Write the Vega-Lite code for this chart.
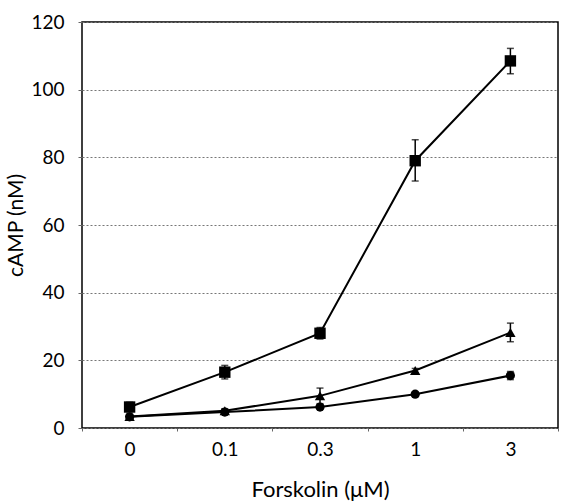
{
  "$schema": "https://vega.github.io/schema/vega-lite/v6.json",
  "width": 476,
  "height": 406,
  "autosize": "none",
  "padding": {"left": 82, "top": 22, "right": 6, "bottom": 75},
  "background": "white",
  "config": {
    "view": {"stroke": "black", "strokeWidth": 1.5},
    "font": "Lato",
    "axis": {"labelFont": "Lato", "titleFont": "Lato", "labelColor": "black", "titleColor": "black", "titleFontWeight": "normal"}
  },
  "data": {
    "values": [
      {"dose": "0", "series": "A", "mean": 6.2, "lo": 4.8, "hi": 7.6},
      {"dose": "0.1", "series": "A", "mean": 16.5, "lo": 14.5, "hi": 18.5},
      {"dose": "0.3", "series": "A", "mean": 28, "lo": 26.3, "hi": 29.7},
      {"dose": "1", "series": "A", "mean": 79, "lo": 73, "hi": 85.2},
      {"dose": "3", "series": "A", "mean": 108.5, "lo": 104.7, "hi": 112.2},
      {"dose": "0", "series": "B", "mean": 3.4, "lo": 2.8, "hi": 4.0},
      {"dose": "0.1", "series": "B", "mean": 5.1, "lo": 4.5, "hi": 5.7},
      {"dose": "0.3", "series": "B", "mean": 9.5, "lo": 7.2, "hi": 11.8},
      {"dose": "1", "series": "B", "mean": 17, "lo": 16.4, "hi": 17.6},
      {"dose": "3", "series": "B", "mean": 28.2, "lo": 25.5, "hi": 31},
      {"dose": "0", "series": "C", "mean": 3.3, "lo": 2.8, "hi": 3.8},
      {"dose": "0.1", "series": "C", "mean": 4.7, "lo": 4.2, "hi": 5.2},
      {"dose": "0.3", "series": "C", "mean": 6.2, "lo": 5.6, "hi": 6.8},
      {"dose": "1", "series": "C", "mean": 10, "lo": 9.4, "hi": 10.6},
      {"dose": "3", "series": "C", "mean": 15.5, "lo": 14.3, "hi": 16.7}
    ]
  },
  "encoding": {
    "x": {
      "field": "dose", "type": "ordinal", "sort": ["0", "0.1", "0.3", "1", "3"],
      "bandPosition": 0.5,
      "scale": {"type": "band", "paddingInner": 0, "paddingOuter": 0},
      "axis": {"title": "Forskolin (μM)", "labelAngle": 0, "labelFontSize": 19, "titleFontSize": 22, "labelPadding": 9, "titlePadding": 20, "tickBand": "extent", "tickSize": 3, "tickColor": "#666", "domain": false, "grid": false}
    },
    "y": {
      "field": "mean", "type": "quantitative",
      "scale": {"domain": [0, 120], "nice": false},
      "axis": {"title": "cAMP (nM)", "values": [0, 20, 40, 60, 80, 100, 120], "labelFontSize": 19, "titleFontSize": 21, "labelPadding": 14, "titlePadding": 4, "tickSize": 4, "tickColor": "#666", "domain": false, "grid": true, "gridColor": "#777", "gridDash": [2, 2], "gridWidth": 1}
    }
  },
  "layer": [
    {
      "mark": {"type": "line", "color": "black", "strokeWidth": 2},
      "encoding": {"detail": {"field": "series"}}
    },
    {
      "mark": {"type": "rule", "color": "black", "strokeWidth": 1.5},
      "encoding": {"y": {"field": "lo", "type": "quantitative"}, "y2": {"field": "hi"}}
    },
    {
      "mark": {"type": "tick", "color": "black", "size": 7, "thickness": 1.5, "orient": "horizontal"},
      "encoding": {"y": {"field": "lo", "type": "quantitative"}}
    },
    {
      "mark": {"type": "tick", "color": "black", "size": 7, "thickness": 1.5, "orient": "horizontal"},
      "encoding": {"y": {"field": "hi", "type": "quantitative"}}
    },
    {
      "mark": {"type": "point", "filled": true, "color": "black", "opacity": 1},
      "encoding": {
        "shape": {"field": "series", "type": "nominal", "scale": {"domain": ["A", "B", "C"], "range": ["square", "triangle-up", "circle"]}, "legend": null},
        "size": {"field": "series", "type": "nominal", "scale": {"domain": ["A", "B", "C"], "range": [130, 85, 90]}, "legend": null}
      }
    }
  ]
}
